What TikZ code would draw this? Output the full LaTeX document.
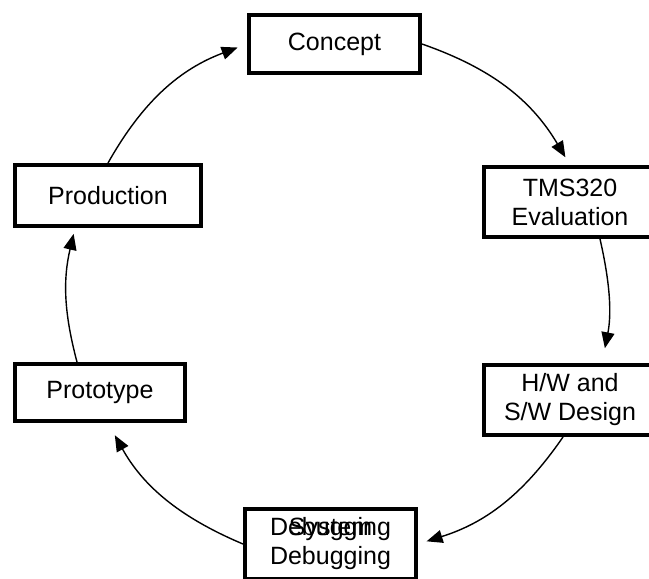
\documentclass[tikz,border=0pt]{standalone}
\usepackage{fontspec}
\setmainfont{Liberation Sans}
\usetikzlibrary{arrows.meta}

\begin{document}
\begin{tikzpicture}[->,>={Triangle[length=8pt,width=6.5pt]},x=0.5pt,y=0.5pt,line width=0.7pt,
    font=\fontsize{12.5}{14.5}\selectfont]

        \tikzstyle{stage}=[draw=black,line width=2pt,fill=white,align=center,inner sep=0pt,minimum height=29pt]

        \useasboundingbox (0,0) rectangle (649,-579);
        \clip (0,0) rectangle (649,-579);

        \node[stage,minimum width=85.5pt]                     (concept) at (334.5,-44)  {Concept};
        \node[stage,minimum width=86pt,minimum height=35pt]   (tms)     at (570,-202)   {TMS320\\Evaluation};
        \node[stage,minimum width=86pt,minimum height=35pt]   (hw)      at (570,-400)   {H/W and\\S/W Design};
        \node[stage,minimum width=85.5pt,minimum height=35pt] (debug)   at (330.5,-544) {\makebox[0pt]{Debugging}\makebox[0pt]{System}\\Debugging};
        \node[stage,minimum width=85pt,minimum height=28.5pt] (proto)   at (100,-392.5) {Prototype};
        \node[stage,minimum width=93pt,minimum height=30.5pt] (prod)    at (108,-195.5) {Production};

        \path (prod.north) edge[bend left=20,shorten >=5pt] (concept.west)
        (concept.east) edge[bend left=20,shorten >=4.5pt] (tms.north)
        ([xshift=15pt]tms.south) edge[bend left=12,shorten >=7.5pt] ([xshift=16pt]hw.north)
        ([xshift=-3.5pt]hw.south) edge[bend left=19,shorten >=4.5pt] (debug.east)
        (debug.west) edge[bend left=19,shorten >=7pt] ([xshift=4pt]proto.south)
        ([xshift=-11.5pt]proto.north) edge[bend left=14,shorten >=3pt] ([xshift=-16.5pt]prod.south)
    ;
\end{tikzpicture}
\end{document}
